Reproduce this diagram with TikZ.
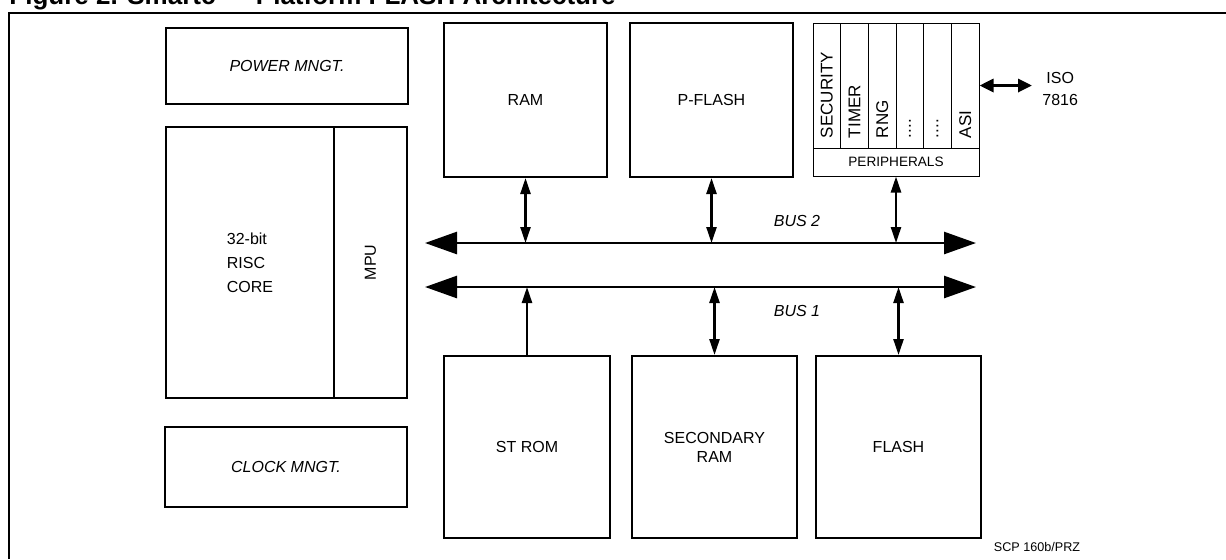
\documentclass[tikz,border=0pt]{standalone}
\usepackage{fontspec}
\setmainfont{Liberation Sans}
\usetikzlibrary{arrows.meta}

\newcommand*{\busxmin}{425}
\newcommand*{\busxmax}{976}
\newcommand*{\bustwoy}{243}
\newcommand*{\busoney}{287}
\newcommand*{\coldots}{....}

\begin{document}
\begin{tikzpicture}
[
	x=0.5pt,
	y=-0.5pt,
	block/.style={draw,line width=1pt,inner sep=0pt,font=\fontsize{8}{9.6}\selectfont},
	colbox/.style={draw,line width=0.5pt,inner sep=0pt,minimum width=13.83pt,minimum height=62.5pt},
	coltext/.style={rotate=90,anchor=west,inner sep=0pt,font=\fontsize{8.5}{10}\selectfont},
	lbl/.style={inner sep=0pt,font=\fontsize{8}{9.6}\selectfont},
	bus/.style={{Triangle[length=16pt,width=11pt]}-{Triangle[length=16pt,width=11pt]},line width=1.35pt},
	link/.style={{Triangle[length=8pt,width=5pt]}-{Triangle[length=8pt,width=5pt]},line width=1.2pt},
	uplink/.style={-{Triangle[length=8pt,width=5pt]},line width=1.2pt},
	isolink/.style={{Triangle[length=7pt,width=6.5pt]}-{Triangle[length=7pt,width=6.5pt]},line width=1.6pt}
]

	\useasboundingbox (0,0) rectangle (1226,559);

	% title and frame
	\node[anchor=base west,inner sep=0pt,font=\fontsize{13}{15}\selectfont\bfseries] (title) at (9,4)
	  {Figure 2. Smartc — Platform FLASH Architecture};
	\draw[line width=1pt] (9,559) |- (1226,13);

	% left column
	\node[block,minimum width=121pt,minimum height=38pt] (power) at (287,66) {\itshape POWER MNGT.};
	\node[block,minimum width=84pt,minimum height=135.5pt,align=left,font=\fontsize{8}{12}\selectfont]
	  (core) at (250,262.5) {32-bit\\RISC\\CORE};
	\node[block,minimum width=36.5pt,minimum height=135.5pt] (mpu) at (370.5,262.5) {};
	\node[lbl,rotate=90] at (mpu.center) {MPU};
	\node[block,minimum width=121pt,minimum height=40pt] (clock) at (286,467) {\itshape CLOCK MNGT.};

	% top row
	\node[block,minimum width=81.5pt,minimum height=77pt] (ram) at (525.5,100) {RAM};
	\node[block,minimum width=81.5pt,minimum height=77pt] (pflash) at (711.5,100) {P-FLASH};

	% peripherals
	\foreach \name [count=\i] in {SECURITY,TIMER,RNG,\coldots,\coldots,ASI} {
		\node[colbox] (c\i) at ({813+27.67*(\i-0.5)},85.5) {};
		\node[coltext] at ([yshift=5pt]c\i.south) {\name};
	}
	\node[draw,line width=0.5pt,inner sep=0pt,minimum width=83pt,minimum height=14pt,
	  font=\fontsize{6.8}{8}\selectfont] (periph) at (896,162) {PERIPHERALS};

	% iso 7816
	\node[lbl,align=center,anchor=west,font=\fontsize{8}{11}\selectfont] (iso) at (1042,89) {ISO\\7816};
	\coordinate (isoend) at (1032,85.5);
	\draw[isolink] (c6.east) -- (isoend);

	% bottom row
	\node[block,minimum width=83pt,minimum height=91pt] (strom) at (527,447) {ST ROM};
	\node[block,minimum width=82.5pt,minimum height=91pt,align=center] (secram) at (714.5,447) {SECONDARY\\RAM};
	\node[block,minimum width=82.5pt,minimum height=91pt] (flash) at (898.5,447) {FLASH};

	% buses
	\coordinate (b2l) at (\busxmin,\bustwoy);
	\coordinate (b2r) at (\busxmax,\bustwoy);
	\coordinate (b1l) at (\busxmin,\busoney);
	\coordinate (b1r) at (\busxmax,\busoney);
	\draw[bus] (b2l) -- (b2r);
	\draw[bus] (b1l) -- (b1r);
	\node[lbl,font=\fontsize{8}{9.6}\selectfont\itshape] (bustwo) at (797,221) {BUS 2};
	\node[lbl,font=\fontsize{8}{9.6}\selectfont\itshape] (busone) at (797,311) {BUS 1};

	% links to bus 2
	\draw[link] (ram.south) -- (ram.south |- b2l);
	\draw[link] (pflash.south) -- (pflash.south |- b2l);
	\draw[link] (periph.south) -- (periph.south |- b2l);

	% links to bus 1
	\draw[uplink] (strom.north) -- (strom.north |- b1l);
	\draw[link] (secram.north) -- (secram.north |- b1l);
	\draw[link] (flash.north) -- (flash.north |- b1l);

	% reference
	\node[lbl,font=\fontsize{6.3}{7.5}\selectfont] (ref) at (1037,547) {SCP 160b/PRZ};

\end{tikzpicture}
\end{document}
